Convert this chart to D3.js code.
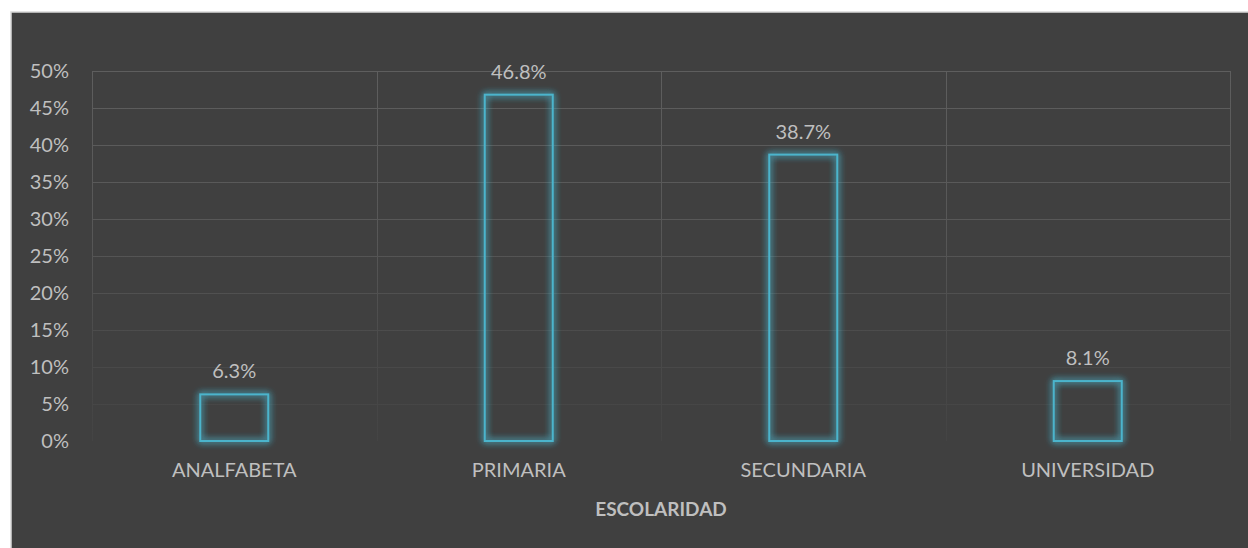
<!DOCTYPE html>
<html><head><meta charset="utf-8">
<script src="https://cdn.jsdelivr.net/npm/d3@7"></script>
<style>html,body{margin:0;padding:0;background:#fff;}svg{display:block;}</style>
</head><body>
<svg id="c" width="1248" height="548"></svg>
<script>
const categories = ["ANALFABETA","PRIMARIA","SECUNDARIA","UNIVERSIDAD"];
const values = [6.3, 46.8, 38.7, 8.1];
const yTicks = [0,5,10,15,20,25,30,35,40,45,50];
const axisTitle = "ESCOLARIDAD";

const svg = d3.select("#c");
const W = 1248, H = 548;
const font = "Lato, 'Open Sans', sans-serif";
const textCol = "#bfbfbf";

svg.append("rect").attr("x",11).attr("y",12).attr("width",W+10).attr("height",H+10)
  .attr("fill","#404040").attr("stroke","#d9d9d9").attr("stroke-width",1.5);

const m = {left:92, right:1230, top:71, bottom:441};
const x = d3.scaleBand().domain(categories).range([m.left,m.right]).paddingInner(0).paddingOuter(0);
const y = d3.scaleLinear().domain([0,50]).range([m.bottom,m.top]);

const defs = svg.append("defs");
const grad = defs.append("linearGradient").attr("id","gg").attr("gradientUnits","userSpaceOnUse")
  .attr("x1",0).attr("y1",m.top).attr("x2",0).attr("y2",m.bottom);
grad.append("stop").attr("offset","0%").attr("stop-color","#5e5e5e");
grad.append("stop").attr("offset","45%").attr("stop-color","#575757");
grad.append("stop").attr("offset","75%").attr("stop-color","#4a4a4a");
grad.append("stop").attr("offset","100%").attr("stop-color","#444444");

const glow = defs.append("filter").attr("id","glow").attr("x","-50%").attr("y","-50%").attr("width","200%").attr("height","200%");
glow.append("feGaussianBlur").attr("in","SourceGraphic").attr("stdDeviation",3.5).attr("result","b");
const mg = glow.append("feMerge");
mg.append("feMergeNode").attr("in","b");
mg.append("feMergeNode").attr("in","b");
mg.append("feMergeNode").attr("in","SourceGraphic");

// horizontal gridlines
const grid = svg.append("g").attr("stroke","url(#gg)").attr("stroke-width",1);
grid.selectAll("line.h").data(yTicks.filter(d=>d>0)).join("line")
  .attr("x1",m.left).attr("x2",m.right).attr("y1",d=>y(d)+0.5).attr("y2",d=>y(d)+0.5);
// vertical gridlines
const vb = categories.map(c=>x(c)).concat([m.right]);
grid.selectAll("line.v").data(vb).join("line")
  .attr("x1",d=>Math.round(d)+0.5).attr("x2",d=>Math.round(d)+0.5).attr("y1",m.top).attr("y2",m.bottom);

// y axis labels
const yAxis = d3.axisLeft(y).tickValues(yTicks).tickFormat(d=>d+"%").tickSize(0).tickPadding(23);
const ya = svg.append("g").attr("transform",`translate(${m.left},0)`).call(yAxis);
ya.select(".domain").remove();
ya.selectAll("text").attr("fill",textCol).style("font-family",font).style("font-size","20px");

// x axis labels
const xAxis = d3.axisBottom(x).tickSize(0).tickPadding(22);
const xa = svg.append("g").attr("transform",`translate(0,${m.bottom})`).call(xAxis);
xa.select(".domain").remove();
xa.selectAll("text").attr("fill",textCol).style("font-family",font).style("font-size","20px");

// bars
const bw = 68;
svg.append("g").selectAll("rect").data(values).join("rect")
  .attr("x",(d,i)=>x(categories[i])+x.bandwidth()/2-bw/2)
  .attr("y",d=>y(d))
  .attr("width",bw).attr("height",d=>y(0)-y(d))
  .attr("fill","none").attr("stroke","#4bb4cc").attr("stroke-width",2)
  .attr("filter","url(#glow)");

// value labels
svg.append("g").selectAll("text").data(values).join("text")
  .attr("x",(d,i)=>x(categories[i])+x.bandwidth()/2)
  .attr("y",d=>y(d)-16)
  .attr("text-anchor","middle").attr("fill",textCol)
  .style("font-family",font).style("font-size","20px")
  .text(d=>d.toFixed(1)+"%");

// axis title
svg.append("text").attr("x",(m.left+m.right)/2).attr("y",516)
  .attr("text-anchor","middle").attr("fill",textCol)
  .style("font-family",font).style("font-size","19px").style("font-weight","bold")
  .text(axisTitle);
</script>
</body></html>
